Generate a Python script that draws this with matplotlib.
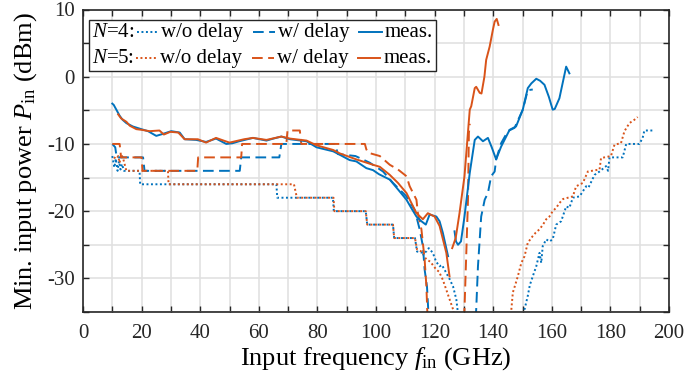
import numpy as np
import matplotlib
matplotlib.use('Agg')
import matplotlib.pyplot as plt
from matplotlib.lines import Line2D
from matplotlib.offsetbox import AnchoredOffsetbox, DrawingArea, HPacker, VPacker, TextArea

SERIF = 'Liberation Serif'
plt.rcParams['font.family'] = SERIF
plt.rcParams['mathtext.fontset'] = 'custom'
plt.rcParams['mathtext.rm'] = SERIF
plt.rcParams['mathtext.it'] = SERIF + ':italic'
plt.rcParams['axes.unicode_minus'] = False

BLUE = '#0072BD'
ORANGE = '#D95319'
nan = np.nan

# N=4, w/o delay (dotted)
f4_nodelay = [10, 10.7, 11.2, 11.8, 12.3, 12.8, 13.3, 14, 19.3, 19.5, 66, 66.3, 85.3, 85.6, 96.5, 97,
              105.8, 106.2, 113.3, 114, 116, 117.2, 118, 119.4, 120.5, 121.7, 122.5, 124, 125, 126.3,
              127.4, 128.2, nan,
              150.5, 150.7, 151.8, 152.5, 153.5, 154.7, 155.8, 156.4, 156.9, 158.1, 159.2, 160.3, 161.5,
              163.2, 164.9, 166, 167.2, 169.5, 171.7, 172.5, 174.6, 176.3, 178.5, 179.2, 179.7, 184.2,
              185.4, 189.9, 191, 191.6, 194.5]
p4_nodelay = [-11.8, -13.5, -12.2, -14, -12.6, -13.8, -13, -14, -14, -16, -16, -18, -18, -20, -20, -22,
              -22, -24, -24, -26, -26.2, -26, -25.5, -26.2, -27.5, -28.2, -28, -29.2, -30, -31.2,
              -33.1, -36, nan,
              -36, -34.6, -32.6, -31, -29.7, -28.2, -26.2, -27.7, -25.2, -24.2, -24.5, -24.2, -22,
              -21.5, -19.3, -19.5, -18, -17.8, -16.3, -16.5, -14.6, -14.1, -13.3, -14, -12, -12,
              -10, -10, -9.1, -8, -8]

# N=5, w/o delay (dotted)
f5_nodelay = [10.5, 11.5, 12, 12.5, 13, 13.6, 14.2, 14.8, 29, 29.2, 72, 72.5, 73, 85.5, 85.8, 96.5, 97,
              105.8, 106.2, 113.3, 114, 115.5, 117.2, 118.5, 120.6, 121.5, 122.8, 124, 125.1, 126.3,
              126.8, nan,
              146, 146.2, 146.7, 147.5, 148.4, 149.6, 150.7, 151.8, 153.5, 154.5, 155.8, 157, 158.1,
              159.2, 160.3, 161.5, 162.6, 163.8, 165.5, 167.2, 168.3, 170.6, 172.3, 176.3, 176.8,
              180.2, 181.4, 183.6, 184.8, 186.5, 188.2, 189.3]
p5_nodelay = [-12, -12.2, -11.8, -12.8, -11.6, -12, -13, -14, -14, -16, -16, -17, -18, -18, -20, -20, -22,
              -22, -24, -24, -25.7, -26, -27.2, -27.5, -28.7, -29, -30.2, -31.7, -33.1, -34.6,
              -36, nan,
              -36, -34.6, -32.1, -31, -29.7, -27.7, -26.7, -24.7, -23.7, -23.2, -22.7, -22, -21.2,
              -20.8, -20, -19.5, -18.8, -18.2, -18, -17.8, -16.3, -15.8, -14.1, -13.8, -12.1,
              -11.8, -10.1, -9.9, -8.1, -6.9, -6.4, -6]

# N=4, w/ delay (dashed)
f4_delay = [10, 11, 11.5, 20.5, 21, 53.5, 54, 67, 67.7, 86, 87, 93, 97.9, 102.4, 105.8, 110.4, 113.2,
            114.9, 116, 116.6, 117.4, 118, nan,
            134, 134.2, 134.8, 135.9, 137.1, 138.2, 139.3, 140.5, 141, 142.7, 145, 147.3, 150.1,
            151.8, 153.5]
p4_delay = [-10, -10.5, -12, -12, -14, -14, -12, -12, -10, -10, -11.5, -11.8, -12.8, -14.1, -15.8, -17.8,
            -19.8, -22.7, -25.2, -28.7, -31.2, -36, nan,
            -36, -34.6, -28.2, -20.8, -18.3, -17.3, -14.8, -14.1, -12.3, -9.9, -8.1, -7.6, -4.9,
            -2, -1.9]

# N=5, w/ delay (dashed)
f5_delay = [10, 12.5, 13, 20, 20.3, 39, 39.3, 54, 54.3, 69.4, 69.8, 74, 74.5, 96.2, 96.7, 97.3, 101.3,
            104.7, 107.5, 110.4, 111.5, 113.8, 114.3, 115.5, 116.6, 117.2, 117.6, nan,
            130, 130.2, 131.4, 131.7, 132]
p5_delay = [-10, -10, -12, -12, -14, -14, -12, -12, -10, -10, -8, -8, -10, -10, -10.8, -11.3, -11.8,
            -13.1, -13.8, -14.8, -16.3, -18.3, -20.3, -22.7, -27.2, -31.2, -36, nan,
            -36, -34.6, -18.3, -8.4, -7]

# N=4, measured (solid)
f4_meas = [10, 10.5, 11.5, 12.5, 13.5, 14.8, 17, 19.9, 22.2, 25, 27.3, 30.1, 33, 34.7, 38.6, 42, 45.4,
           48.9, 51, 53.3, 58, 62.6, 65, 67.7, 70.6, 76.3, 79.7, 85.4, 87.6, 91, 93.3, 96.7, 99, 101,
           104.7, 107, 110.4, 112, 113.8, 115.5, 117, 118.3, 120.6, 121.7, 122.8, 124.6, nan,
           126.8, 127.3, 128, 129, 130.2, 132, 133.7, 134.8, 136.5, 138.2, 139.5, 141, 142.7, 145.6,
           147.8, 150.1, 151.8, 153, 154.7, 156, 157.5, 159, 160.3, 161, 162.6, 164.9, 166]
p4_meas = [-4, -4.2, -5, -5.8, -6.4, -6.9, -7.4, -7.8, -8.1, -8.8, -8.5, -8.1, -8.3, -9.3, -9.4, -9.7, -9.2,
           -10, -9.9, -9.6, -9.1, -9.5, -9.2, -8.9, -9.3, -9.6, -10.5, -11.1, -11.6, -12.4, -12.6, -13.6,
           -13.9, -14.5, -15.3, -16.5, -18.3, -19.5, -20.8, -21.5, -22, -20.5, -20.8, -21.5, -23.2,
           -26.7, nan,
           -23, -24.5, -25, -24.5, -20.8, -14.3, -9.4, -8.9, -9.6, -9.1, -10.5, -12.3, -10.4, -7.9,
           -7.4, -4.9, -1.7, -1, -0.3, -0.6, -1.2, -3, -4.9, -4.8, -3.2, 1.5, 0.5]

# N=5, measured (solid)
f5_meas = [12, 13, 14.8, 16, 18.2, 20, 22.7, 26.1, 27.6, 29.8, 32.5, 34.7, 39.2, 42, 45.4, 48, 50, 52, 55,
           58, 62.6, 67.7, 70.6, 76.3, 79.7, 85.4, 87.6, 93.3, 99, 101.3, 104.7, 107.5, 110.4, 113.8,
           116, 117.7, 120, 121.7, 124, 125.1, nan,
           126, 127.2, 128.5, 130.2, 132, 132.5, 133.7, 134.2, 135.4, 136, 137, 137.6, 138.8, 139.9,
           140.5, 141.2, 141.8]
p5_meas = [-5.6, -6.2, -6.7, -7.3, -7.8, -7.9, -8.1, -8.0, -8.6, -8.2, -8.3, -9.3, -9.3, -9.8, -9.1, -9.5,
           -9.8, -9.6, -9.3, -9.1, -9.4, -8.9, -9.2, -9.5, -10.2, -10.9, -11.4, -12.3, -13.1, -13.4,
           -14.6, -15.8, -17.3, -20.3, -21.2, -20.3, -20.8, -22.2, -26.2, -29.7, nan,
           -25.5, -24, -20.3, -14.8, -4.9, -4.4, -1.7, -1.5, -2.4, -2.5, 0, 2.5, 4.5, 7,
           8.2, 8.6, 7.7]

xticks = np.arange(0, 201, 20)
yticks = np.arange(-30, 11, 10)

LW = 1.4
DOT = (1, 1.3)
DASH = (5.5, 2.8)

fig = plt.figure(figsize=(6.96, 3.77), dpi=100)
ax = fig.add_axes([83 / 696, 1 - 312 / 377, 586 / 696, 302.5 / 377])

ax.plot(f4_nodelay, p4_nodelay, color=BLUE, lw=LW, dashes=DOT)
ax.plot(f5_nodelay, p5_nodelay, color=ORANGE, lw=LW, dashes=DOT)
ax.plot(f4_delay, p4_delay, color=BLUE, lw=LW, dashes=DASH)
ax.plot(f5_delay, p5_delay, color=ORANGE, lw=LW, dashes=DASH)
ax.plot(f4_meas, p4_meas, color=BLUE, lw=LW)
ax.plot(f5_meas, p5_meas, color=ORANGE, lw=LW)

ax.set_xlim(0, 200)
ax.set_ylim(-35, 10)
ax.set_xticks(xticks)
ax.set_xticklabels([str(v) for v in xticks], fontfamily=SERIF, fontsize=15)
ax.set_xticks(np.arange(10, 200, 20), minor=True)
ax.set_yticks(yticks)
ax.set_yticklabels([str(v) for v in yticks], fontfamily=SERIF, fontsize=15)
ax.set_yticks(np.arange(-35, 10, 10), minor=True)
ax.grid(True, which='both', color='#e1e1e1', lw=1.2)
ax.set_axisbelow(True)
ax.tick_params(which='both', direction='in', top=True, right=True, length=4, width=1.0,
               colors='#262626', pad=6)
ax.tick_params(axis='x', pad=9)
for s in ax.spines.values():
    s.set_color('#262626')
    s.set_linewidth(1.2)

ax.set_xlabel(r'Input frequency $f_{\rm in}$ (GHz)', fontsize=19, labelpad=1)
ax.set_ylabel(r'Min. input power $P_{\rm in}$ (dBm)', fontsize=19, labelpad=6)


# legend: two rows, N label followed by three keys
def key(color, dashes):
    da = DrawingArea(16, 10)
    ln = Line2D([0, 16], [5, 5], color=color, lw=LW)
    if dashes is not None:
        ln.set_dashes(dashes)
    da.add_artist(ln)
    return da


def row(n, color):
    tp = dict(fontsize=15)
    items = [
        HPacker(children=[TextArea(r'$N$=%d:' % n, textprops=tp), key(color, DOT),
                          TextArea('w/o delay', textprops=tp)], sep=1.5, align='center'),
        HPacker(children=[key(color, DASH), TextArea('w/ delay', textprops=tp)], sep=2, align='center'),
        HPacker(children=[key(color, None), TextArea('meas.', textprops=tp)], sep=2, align='center'),
    ]
    return HPacker(children=items, sep=7, align='center')


box = VPacker(children=[row(4, BLUE), row(5, ORANGE)], sep=5, align='left')
anch = AnchoredOffsetbox(loc='upper left', child=box, pad=0.25, borderpad=0,
                         bbox_to_anchor=(6 / 586, 1 - 10 / 302.5), bbox_transform=ax.transAxes,
                         frameon=True)
anch.patch.set_edgecolor('#262626')
anch.patch.set_linewidth(1.0)
anch.patch.set_boxstyle('square', pad=0)
ax.add_artist(anch)

fig.savefig('out.png', dpi=100)
